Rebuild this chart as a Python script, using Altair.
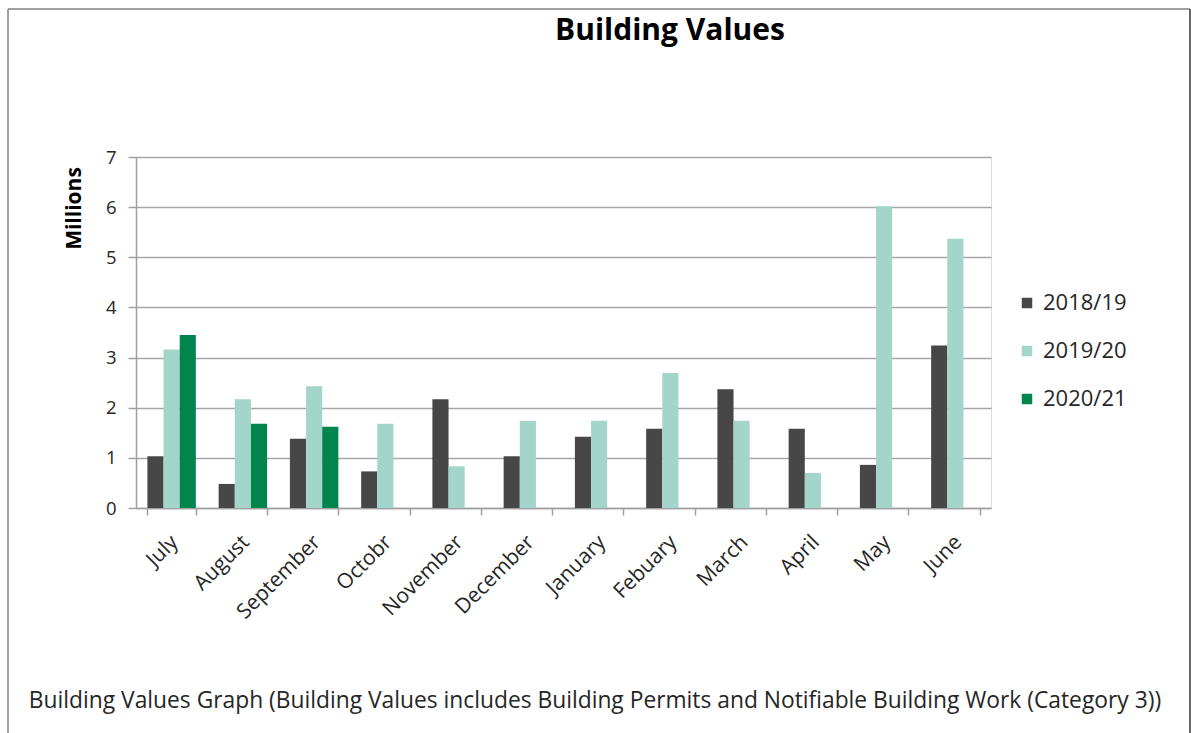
import altair as alt
import pandas as pd

months = ["July", "August", "September", "Octobr", "November", "December",
          "January", "Febuary", "March", "April", "May", "June"]
series = ["2018/19", "2019/20", "2020/21"]
v_2018_19 = [1.03, 0.48, 1.38, 0.73, 2.17, 1.03, 1.42, 1.58, 2.37, 1.58, 0.86, 3.24]
v_2019_20 = [3.16, 2.17, 2.43, 1.68, 0.83, 1.74, 1.74, 2.69, 1.74, 0.70, 6.02, 5.37]
v_2020_21 = [3.45, 1.68, 1.62, None, None, None, None, None, None, None, None, None]
colors = ["#474747", "#a3d5cb", "#00854f"]
y_ticks = [0, 1, 2, 3, 4, 5, 6, 7]
title_text = "Building Values"
y_title = "Millions"
caption = ("Building Values Graph (Building Values includes Building Permits and "
           "Notifiable Building Work (Category 3))")

rows = []
for s, vals in zip(series, [v_2018_19, v_2019_20, v_2020_21]):
    for m, v in zip(months, vals):
        if v is not None:
            rows.append({"Month": m, "Series": s, "Value": v})
df = pd.DataFrame(rows)

FONT = "Open Sans"
W, H = 855, 351
PAD_L, PAD_T = 136, 157

bars = alt.Chart(df).mark_bar().encode(
    x=alt.X("Month:N", sort=months,
            scale=alt.Scale(paddingInner=0.32, paddingOuter=0.16),
            axis=alt.Axis(title=None, labelAngle=-45, labelFontSize=21,
                          labelFont=FONT, labelColor="#262626",
                          tickBand="extent", tickSize=7, tickColor="#a0a0a0",
                          domainColor="#a0a0a0", domainWidth=1.5, tickWidth=1.5,
                          labelPadding=16, labelOffset=-5, grid=False)),
    xOffset=alt.XOffset("Series:N", scale=alt.Scale(domain=series)),
    y=alt.Y("Value:Q", scale=alt.Scale(domain=[0, 7], nice=False),
            axis=alt.Axis(values=y_ticks, title=y_title, titleFont=FONT,
                          titleFontSize=21, titleFontWeight="bold",
                          titleColor="#000000", titleX=-62, titleY=51,
                          titleAlign="center", titleBaseline="middle", titleAngle=-90,
                          labelFont=FONT, labelFontSize=18.5, labelColor="#262626",
                          labelPadding=12, tickSize=8, tickColor="#a0a0a0",
                          tickWidth=1.5, domainColor="#a0a0a0", domainWidth=1.5,
                          gridColor="#a6a6a6", gridWidth=1.5)),
    color=alt.Color("Series:N", scale=alt.Scale(domain=series, range=colors),
                    legend=alt.Legend(title=None, orient="none", legendX=880,
                                      legendY=135, symbolType="square",
                                      symbolSize=110, symbolStrokeWidth=0,
                                      labelFont=FONT, labelFontSize=22,
                                      labelColor="#262626", rowPadding=26,
                                      labelOffset=5)),
)

frame_data = alt.Data(values=[{"k": 1}])
left_line = alt.Chart(frame_data).mark_rule(color="#808080", strokeWidth=1.5).encode(
    x=alt.value(-128), y=alt.value(-148), y2=alt.value(600))
top_line = alt.Chart(frame_data).mark_rule(color="#808080", strokeWidth=1.5).encode(
    x=alt.value(-128), x2=alt.value(1054), y=alt.value(-148))
right_line = alt.Chart(frame_data).mark_rule(color="#333333", strokeWidth=1.5).encode(
    x=alt.value(1054), y=alt.value(-148), y2=alt.value(600))

title = alt.Chart(alt.Data(values=[{"t": title_text}])).mark_text(
    font=FONT, fontSize=30, fontWeight="bold", color="#000000", align="center",
    baseline="alphabetic"
).encode(x=alt.value(534), y=alt.value(-117), text="t:N")

cap = alt.Chart(alt.Data(values=[{"t": caption}])).mark_text(
    font=FONT, fontSize=22.8, color="#262626", align="center", baseline="alphabetic"
).encode(x=alt.value(459), y=alt.value(551), text="t:N")

chart = alt.layer(bars, left_line, top_line, right_line, title, cap).properties(
    width=W, height=H,
    autosize=alt.AutoSizeParams(type="none"),
    padding={"left": PAD_L, "top": PAD_T, "right": 1191 - PAD_L - W,
             "bottom": 733 - PAD_T - H},
).configure_view(stroke=None).configure(background="white")

chart.save("out.html", embed_options={"renderer": "svg", "actions": False})
